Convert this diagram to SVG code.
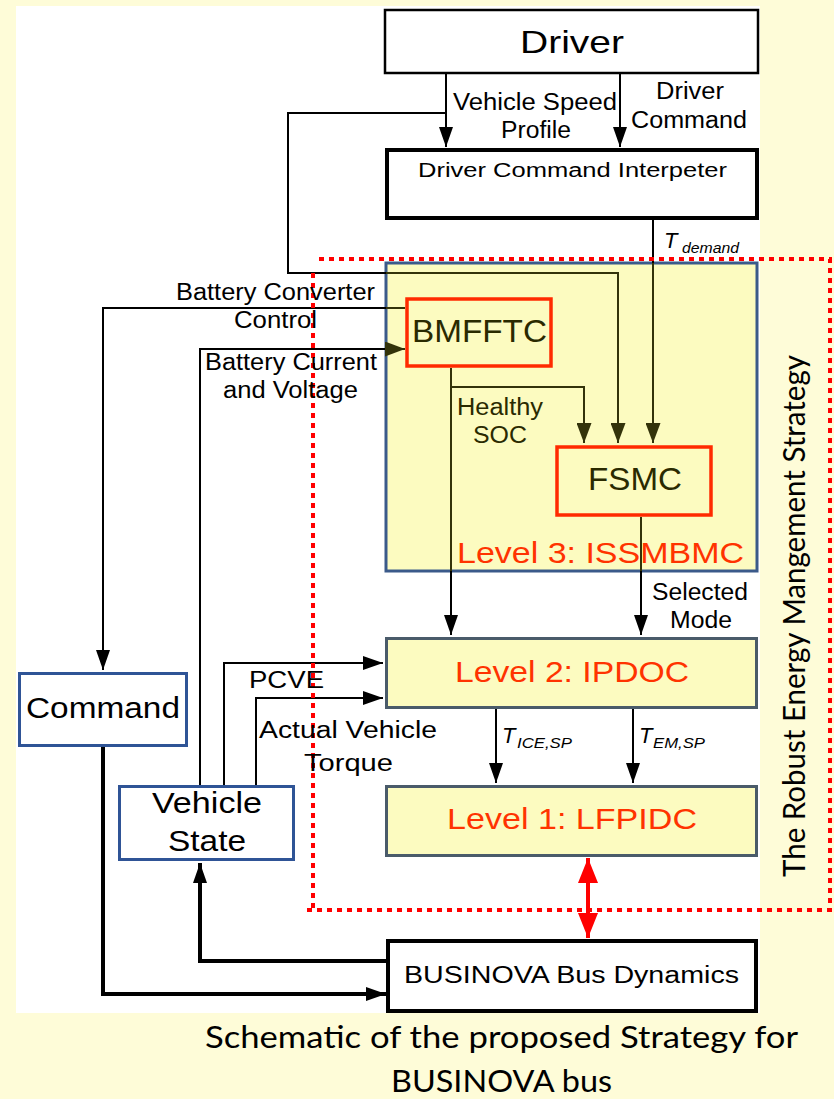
<svg xmlns="http://www.w3.org/2000/svg" width="834" height="1099" viewBox="0 0 834 1099">
<style>
.lbl{font-family:"Liberation Sans",Arial,sans-serif;fill:#000}
.ol{fill:#2a2a00}
.red{fill:#ff3300}
.cal{font-family:Lato,"Open Sans",sans-serif;fill:#000}
.it{font-style:italic}
.ln{fill:none;stroke:#000;stroke-width:2}
.lno{fill:none;stroke:#33330a;stroke-width:2}
.thick{fill:none;stroke:#000;stroke-width:4}
.box{fill:#fff;stroke:#000}
.bluebox{fill:#fff;stroke:#2f5496;stroke-width:3}
.ybox{fill:#fcfbc0;stroke:#4a5b6a;stroke-width:3}
.redbox{fill:none;stroke:#ff2a00;stroke-width:3.5}
</style>
<defs>
<marker id="ah" viewBox="0 0 20 14" refX="20" refY="7" markerWidth="20" markerHeight="14" markerUnits="userSpaceOnUse" orient="auto"><path d="M0,0 L20,7 L0,14 z" fill="#000"/></marker>
<marker id="aho" viewBox="0 0 20 15" refX="20" refY="7.5" markerWidth="20" markerHeight="15" markerUnits="userSpaceOnUse" orient="auto"><path d="M0,0 L20,7.5 L0,15 z" fill="#33330a"/></marker>
<marker id="ahr" viewBox="0 0 25 20" refX="25" refY="10" markerWidth="25" markerHeight="20" markerUnits="userSpaceOnUse" orient="auto-start-reverse"><path d="M0,0 L25,10 L0,20 z" fill="#ff0000"/></marker>
</defs>
<rect x="0" y="0" width="834" height="1099" fill="#fefcd8"/>
<rect x="16" y="6" width="744" height="1007" fill="#fff"/>

<g id="issmbmc">
<rect x="386" y="263" width="371" height="308" fill="#fcfbc0" stroke="#3b5a8a" stroke-width="3"/>
<text class="lbl red" x="457" y="563" font-size="29" textLength="287" lengthAdjust="spacingAndGlyphs">Level 3: ISSMBMC</text>
</g>

<g id="connectors">
<path class="ln" d="M446,73 V147" marker-end="url(#ah)"/>
<path class="ln" d="M620,73 V147" marker-end="url(#ah)"/>
<path class="ln" d="M446,113 H288 V273 H386"/>
<path class="lno" d="M386,273 H618 V443" marker-end="url(#aho)"/>
<path class="ln" d="M653,220 V263"/>
<path class="lno" d="M653,263 V443" marker-end="url(#aho)"/>
<path class="ln" d="M386,308 H103 V670" marker-end="url(#ah)"/>
<path class="lno" d="M405,308 H386"/>
<path class="ln" d="M200,785 V349 H386"/>
<path class="lno" d="M385,349 H405" marker-end="url(#aho)"/>
<path class="lno" d="M451,368 V572"/>
<path class="ln" d="M451,571 V635" marker-end="url(#ah)"/>
<path class="lno" d="M451,387 H584 V443" marker-end="url(#aho)"/>
<path class="lno" d="M641,517 V572"/>
<path class="ln" d="M641,571 V635" marker-end="url(#ah)"/>
<path class="ln" d="M224,785 V663 H383" marker-end="url(#ah)"/>
<path class="ln" d="M256,785 V698 H383" marker-end="url(#ah)"/>
<path class="ln" d="M496,709 V783" marker-end="url(#ah)"/>
<path class="ln" d="M633,709 V783" marker-end="url(#ah)"/>
<path d="M588,858 V938" fill="none" stroke="#ff0000" stroke-width="4" marker-start="url(#ahr)" marker-end="url(#ahr)"/>
<path class="thick" d="M386,961 H200 V863" marker-end="url(#ah)"/>
<path class="thick" d="M103,747 V994 H386" marker-end="url(#ah)"/>
</g>

<g id="frame">
<path d="M319,259 H830 V910 H306 M313,273 V913" fill="none" stroke="#ff0000" stroke-width="4" stroke-dasharray="5 5"/>
<text class="cal" font-size="30" textLength="522" lengthAdjust="spacingAndGlyphs" transform="translate(805,877) rotate(-90)">The Robust Energy Mangement Strategy</text>
</g>

<g id="driver">
<rect class="box" x="385" y="10" width="373" height="63" stroke-width="2.5"/>
<text class="lbl" x="520" y="53" font-size="32" textLength="104" lengthAdjust="spacingAndGlyphs">Driver</text>
</g>
<g id="labels-top">
<text class="lbl" x="453" y="110" font-size="23" textLength="164" lengthAdjust="spacingAndGlyphs">Vehicle Speed</text>
<text class="lbl" x="501" y="138" font-size="23" textLength="70" lengthAdjust="spacingAndGlyphs">Profile</text>
<text class="lbl" x="656" y="99" font-size="23" textLength="68" lengthAdjust="spacingAndGlyphs">Driver</text>
<text class="lbl" x="631" y="128" font-size="23" textLength="116" lengthAdjust="spacingAndGlyphs">Command</text>
</g>
<g id="dci">
<rect class="box" x="387" y="150" width="370" height="68" stroke-width="4"/>
<text class="lbl" x="418" y="177" font-size="20" textLength="309" lengthAdjust="spacingAndGlyphs">Driver Command Interpeter</text>
</g>
<g id="tdemand">
<text class="lbl it" x="664" y="248" font-size="22">T</text>
<text class="lbl it" x="682" y="253" font-size="15" textLength="57" lengthAdjust="spacingAndGlyphs">demand</text>
</g>
<g id="battery-labels">
<text class="lbl" x="176" y="300" font-size="23" textLength="199" lengthAdjust="spacingAndGlyphs">Battery Converter</text>
<text class="lbl" x="234" y="328" font-size="23" textLength="83" lengthAdjust="spacingAndGlyphs">Control</text>
<text class="lbl" x="205" y="370" font-size="23" textLength="172" lengthAdjust="spacingAndGlyphs">Battery Current</text>
<text class="lbl" x="223" y="398" font-size="23" textLength="135" lengthAdjust="spacingAndGlyphs">and Voltage</text>
</g>
<g id="bmfftc">
<rect class="redbox" x="407" y="299" width="144" height="67"/>
<text class="lbl ol" x="412" y="342" font-size="32" textLength="135" lengthAdjust="spacingAndGlyphs">BMFFTC</text>
</g>
<g id="healthy">
<text class="lbl ol" x="457" y="415" font-size="23" textLength="86" lengthAdjust="spacingAndGlyphs">Healthy</text>
<text class="lbl ol" x="473" y="443" font-size="23" textLength="54" lengthAdjust="spacingAndGlyphs">SOC</text>
</g>
<g id="fsmc">
<rect class="redbox" x="557" y="447" width="154" height="68"/>
<text class="lbl ol" x="588" y="490" font-size="31" textLength="94" lengthAdjust="spacingAndGlyphs">FSMC</text>
</g>
<g id="selected">
<text class="lbl" x="652" y="600" font-size="23" textLength="96" lengthAdjust="spacingAndGlyphs">Selected</text>
<text class="lbl" x="670" y="628" font-size="23" textLength="62" lengthAdjust="spacingAndGlyphs">Mode</text>
</g>
<g id="level2">
<rect class="ybox" x="386.5" y="638.5" width="370" height="69"/>
<text class="lbl red" x="455" y="682" font-size="30" textLength="234" lengthAdjust="spacingAndGlyphs">Level 2: IPDOC</text>
</g>
<g id="torque-labels">
<text class="lbl it" x="502" y="743" font-size="22">T</text>
<text class="lbl it" x="517" y="748" font-size="14" textLength="55" lengthAdjust="spacingAndGlyphs">ICE,SP</text>
<text class="lbl it" x="639" y="743" font-size="22">T</text>
<text class="lbl it" x="653" y="748" font-size="14" textLength="52" lengthAdjust="spacingAndGlyphs">EM,SP</text>
</g>
<g id="level1">
<rect class="ybox" x="386.5" y="786.5" width="370" height="69"/>
<text class="lbl red" x="447" y="829" font-size="30" textLength="250" lengthAdjust="spacingAndGlyphs">Level 1: LFPIDC</text>
</g>
<g id="command">
<rect class="bluebox" x="19.5" y="673.5" width="167" height="72"/>
<text class="lbl" x="26" y="718" font-size="30" textLength="154" lengthAdjust="spacingAndGlyphs">Command</text>
</g>
<g id="vehicle-state">
<rect class="bluebox" x="119.5" y="786.5" width="174" height="73"/>
<text class="lbl" x="152" y="813" font-size="30" textLength="110" lengthAdjust="spacingAndGlyphs">Vehicle</text>
<text class="lbl" x="168" y="851" font-size="30" textLength="78" lengthAdjust="spacingAndGlyphs">State</text>
</g>
<g id="pcve-labels">
<text class="lbl" x="249" y="688" font-size="24" textLength="75" lengthAdjust="spacingAndGlyphs">PCVE</text>
<text class="lbl" x="259" y="738" font-size="23" textLength="178" lengthAdjust="spacingAndGlyphs">Actual Vehicle</text>
<text class="lbl" x="304" y="771" font-size="23" textLength="89" lengthAdjust="spacingAndGlyphs">Torque</text>
</g>
<g id="businova">
<rect class="box" x="388" y="941" width="368" height="70" stroke-width="4"/>
<text class="lbl" x="404" y="983" font-size="23" textLength="335" lengthAdjust="spacingAndGlyphs">BUSINOVA Bus Dynamics</text>
</g>
<g id="caption">
<text class="cal" x="205" y="1048" font-size="31" textLength="593" lengthAdjust="spacingAndGlyphs">Schematic of the proposed Strategy for</text>
<text class="cal" x="391" y="1092" font-size="31" textLength="221" lengthAdjust="spacingAndGlyphs">BUSINOVA bus</text>
</g>
</svg>
